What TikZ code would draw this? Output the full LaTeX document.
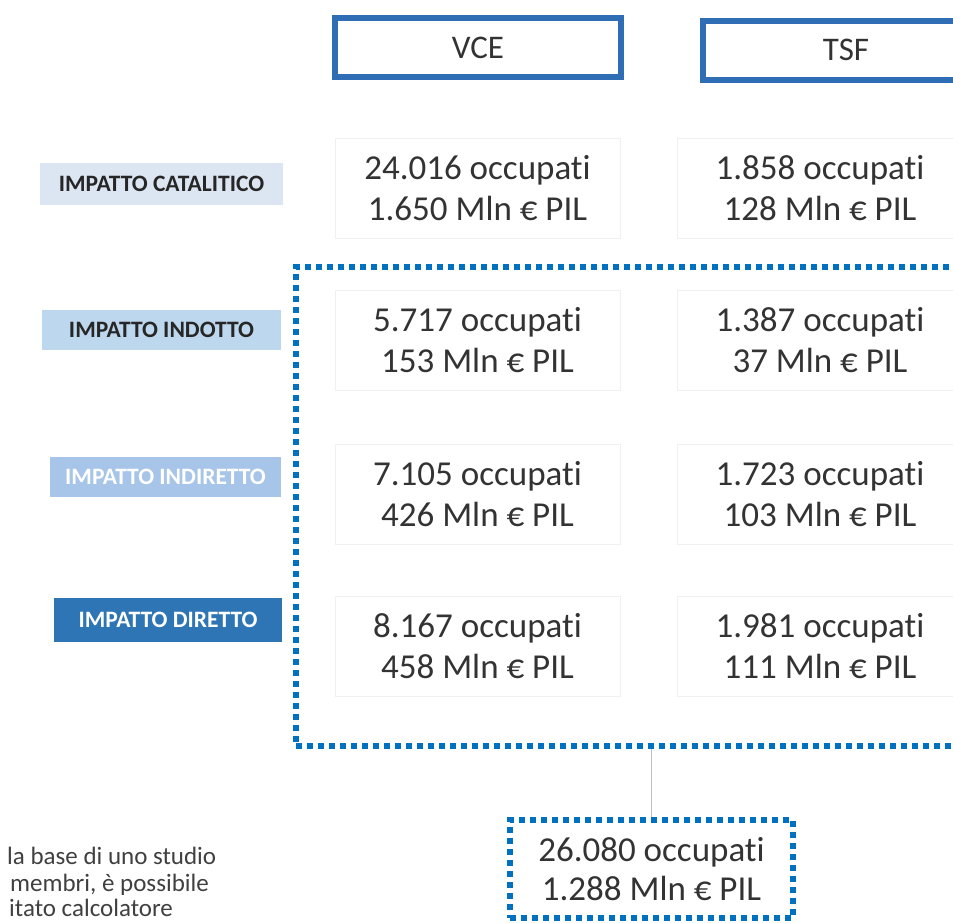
\documentclass[tikz,border=0pt]{standalone}
\usepackage{fontspec}
\setmainfont{Carlito}[Ligatures={NoCommon}]
\definecolor{hdrblue}{HTML}{2F6EB5}
\definecolor{dotblue}{HTML}{0070C0}
\definecolor{lblA}{HTML}{DCE6F2}
\definecolor{lblB}{HTML}{BDD7EE}
\definecolor{lblC}{HTML}{A7C5E8}
\definecolor{lblD}{HTML}{2E75B6}
\definecolor{txt}{HTML}{333333}
\begin{document}
\begin{tikzpicture}[x=1pt,y=-1pt,
  hdr/.style={draw=hdrblue, line width=6pt, minimum width=286pt, minimum height=59pt, inner sep=0pt, font=\fontsize{33}{38}\selectfont, text=txt},
  val/.style={draw=black!6, line width=0.8pt, minimum width=285pt, minimum height=100pt, align=center, font=\fontsize{35}{41}\selectfont, text=txt, inner sep=0pt},
  lbl/.style={inner sep=0pt, font=\bfseries\fontsize{23.5}{26}\selectfont},
  dotbox/.style={draw=dotblue, line width=5.5pt, dash pattern=on 6pt off 5pt},
  note/.style={anchor=base west, inner sep=0pt, font=\fontsize{25}{28}\selectfont, text=black!75},
]
\useasboundingbox (0,0) rectangle (953,922);
\fill[white] (0,0) rectangle (953,922);

% headers
\node[hdr] (vce) at (478,47.5) {VCE};
\node[hdr] (tsf) at (846,50) {TSF};

% dotted group
\node[dotbox, minimum width=714pt, minimum height=479pt, inner sep=0pt] (grp) at (653,506.5) {};

% row labels
\node[lbl, fill=lblA, minimum width=243pt, minimum height=42pt, text=black!85] (lcat) at (161.5,184) {IMPATTO CATALITICO};
\node[lbl, fill=lblB, minimum width=239pt, minimum height=40pt, text=black!85] (lind) at (161.5,330) {IMPATTO INDOTTO};
\node[lbl, fill=lblC, minimum width=231pt, minimum height=40pt, text=white] (lindir) at (165.5,477) {IMPATTO INDIRETTO};
\node[lbl, fill=lblD, minimum width=228pt, minimum height=44pt, text=white] (ldir) at (168,620) {IMPATTO DIRETTO};

% values VCE
\node[val] (v1) at (477.5,188) {24.016 occupati\\1.650 Mln € PIL};
\node[val] (v2) at (477.5,340) {5.717 occupati\\153 Mln € PIL};
\node[val] (v3) at (477.5,494) {7.105 occupati\\426 Mln € PIL};
\node[val] (v4) at (477.5,646) {8.167 occupati\\458 Mln € PIL};

% values TSF
\node[val] (t1) at (820,188) {1.858 occupati\\128 Mln € PIL};
\node[val] (t2) at (820,340) {1.387 occupati\\37 Mln € PIL};
\node[val] (t3) at (820,494) {1.723 occupati\\103 Mln € PIL};
\node[val] (t4) at (820,646) {1.981 occupati\\111 Mln € PIL};

% total
\node[dotbox, minimum width=283pt, minimum height=98pt, align=center, inner sep=0pt, font=\fontsize{35}{39}\selectfont, text=txt] (tot) at (651.5,869) {26.080 occupati\\1.288 Mln € PIL};
\draw[black!25, line width=0.8pt] (tot.north) -- (tot.north |- grp.south);

% cut-off note text
\node[note] (n1) at (7,864) {la base di uno studio};
\node[note] (n2) at (10,891) {membri, è possibile};
\node[note] (n3) at (9,916) {itato calcolatore};
\end{tikzpicture}
\end{document}
